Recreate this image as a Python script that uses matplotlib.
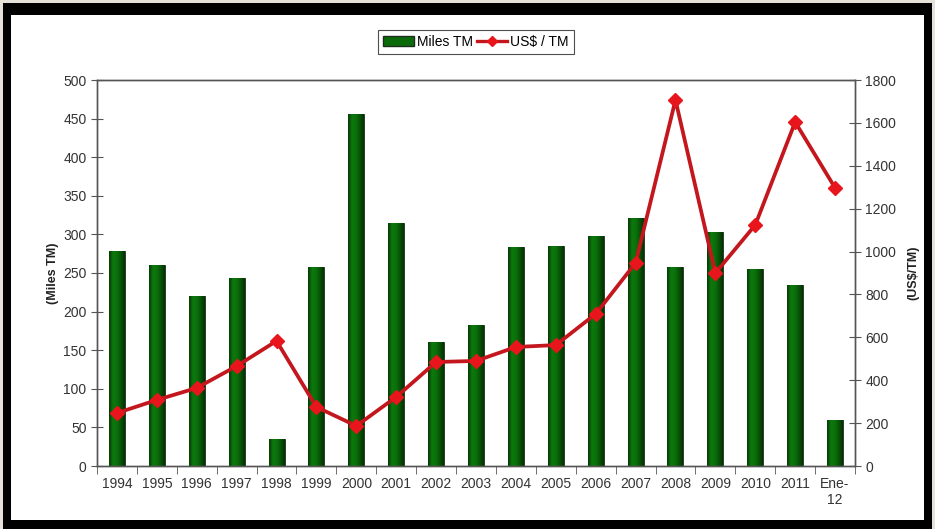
import matplotlib
matplotlib.use("Agg")
import matplotlib.pyplot as plt
import numpy as np
from matplotlib.colors import LinearSegmentedColormap
from matplotlib.lines import Line2D
from matplotlib.patches import Rectangle

plt.rcParams["font.family"] = ["Liberation Sans", "DejaVu Sans"]

years = ["1994", "1995", "1996", "1997", "1998", "1999", "2000", "2001",
         "2002", "2003", "2004", "2005", "2006", "2007", "2008", "2009",
         "2010", "2011", "Ene-\n12"]
miles_tm = [279, 260, 220, 243, 35, 258, 456, 315, 161, 183, 284, 285,
            298, 321, 258, 303, 255, 234, 60]
usd_tm = [247, 308, 364, 466, 583, 275, 187, 322, 485, 490, 555, 564,
          709, 947, 1707, 900, 1124, 1604, 1297]

W, H = 935, 529
fig = plt.figure(figsize=(W / 100, H / 100), dpi=100)
fig.patch.set_facecolor("#e6e2da")

# black frame with white board inside
fig.add_artist(Rectangle((3 / W, 0), 929 / W, 526 / H, transform=fig.transFigure,
                         facecolor="black", edgecolor="none", zorder=-2))
fig.add_artist(Rectangle((11 / W, 9 / H), 913 / W, 505 / H, transform=fig.transFigure,
                         facecolor="white", edgecolor="none", zorder=-1))

ax = fig.add_axes([97 / W, (H - 466) / H, 758 / W, 386 / H])
ax.set_facecolor("none")
ax2 = ax.twinx()

x = np.arange(len(years))
text_col = "#333333"
spine_col = "#555555"

# bars with a horizontal shading
green = LinearSegmentedColormap.from_list(
    "bar", ["#063806", "#0d7a0d", "#0b700b", "#075407", "#043004"])
grad = np.linspace(0, 1, 64).reshape(1, -1)
bars = ax.bar(x, miles_tm, 0.4, color="#0b6b0b", edgecolor="#1e2e1e",
              linewidth=0.6, zorder=2, label="Miles TM")
for b in bars:
    im = ax.imshow(grad, cmap=green, aspect="auto", zorder=2.1,
                   extent=(b.get_x(), b.get_x() + b.get_width(), 0, b.get_height()))
    im.set_clip_path(b)

ax.set_xlim(-0.5, len(years) - 0.5)
ax.set_ylim(0, 500)
ax.set_yticks(np.arange(0, 501, 50))
ax.set_xticks(x)
ax.set_xticklabels(years)
ax.set_xticks(np.arange(-0.5, len(years), 1), minor=True)
ax.tick_params(axis="x", which="major", length=0, pad=8, labelsize=10, colors=text_col)
ax.tick_params(axis="x", which="minor", length=6, direction="out", color=spine_col)
ax.tick_params(axis="y", length=8, direction="inout", labelsize=10,
               colors=text_col, color=spine_col)

ax2.plot(x, usd_tm, color="#c4161d", lw=2.7, marker="D", ms=7,
         mfc="#e8151c", mec="#e8151c", zorder=3, label="US$ / TM")
ax2.set_ylim(0, 1800)
ax2.set_yticks(np.arange(0, 1801, 200))
ax2.tick_params(axis="y", length=8, direction="inout", labelsize=10,
                colors=text_col, color=spine_col)
ax2.set_zorder(ax.get_zorder() + 1)
ax2.patch.set_visible(False)

for a in (ax, ax2):
    for s in a.spines.values():
        s.set_color(spine_col)
        s.set_linewidth(1.0)

ax.set_ylabel("(Miles TM)", fontsize=9, fontweight="bold", color="#222222", labelpad=3)
ax2.set_ylabel("(US$/TM)", fontsize=9, fontweight="bold", color="#222222",
               rotation=90, labelpad=8)

handles = [Rectangle((0, 0), 1, 1, facecolor="#0b6b0b", edgecolor="#1e2e1e"),
           Line2D([], [], color="#c4161d", lw=2.4, marker="D", ms=5,
                  mfc="#e8151c", mec="#e8151c")]
leg = fig.legend(handles, ["Miles TM", "US$ / TM"], loc="center",
                 bbox_to_anchor=(476 / W, (H - 42) / H), ncol=2, fontsize=10,
                 frameon=True, fancybox=False, handlelength=2.2,
                 handletextpad=0.2, columnspacing=0.3, borderpad=0.35)
leg.get_frame().set_edgecolor("#222222")
leg.get_frame().set_linewidth(0.8)

fig.savefig("out.png", dpi=100, facecolor=fig.get_facecolor())
